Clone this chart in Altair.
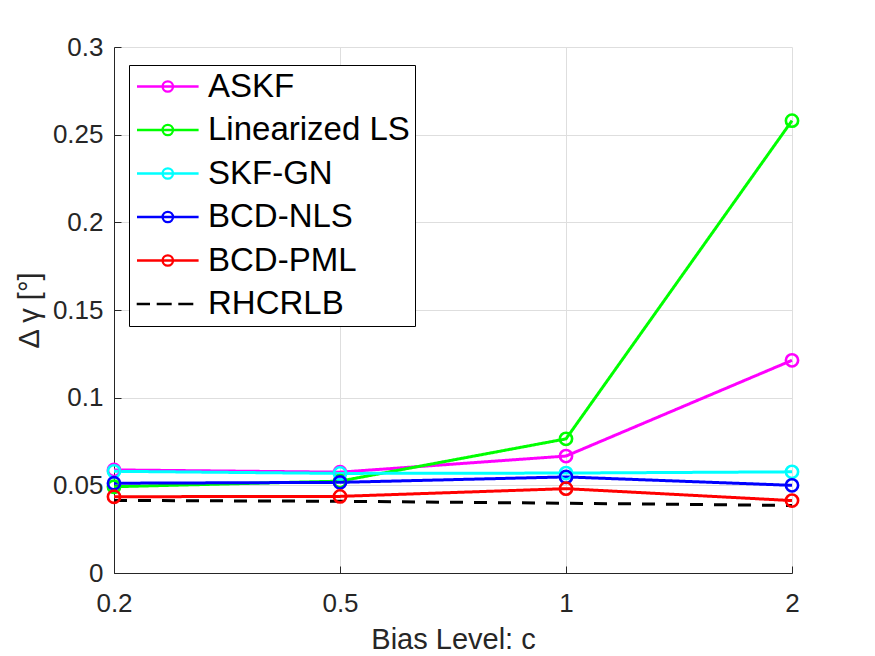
import altair as alt
import pandas as pd

# ---- data ----
bias_levels = ["0.2", "0.5", "1", "2"]
series_names = ["ASKF", "Linearized LS", "SKF-GN", "BCD-NLS", "BCD-PML", "RHCRLB"]
series_colors = ["#ff00ff", "#00ff00", "#00ffff", "#0000ff", "#ff0000", "#000000"]

askf = [0.0588, 0.0575, 0.0667, 0.1213]
lin_ls = [0.0492, 0.0524, 0.0765, 0.2580]
skf_gn = [0.0580, 0.0568, 0.0570, 0.0577]
bcd_nls = [0.0512, 0.0517, 0.0548, 0.0500]
bcd_pml = [0.0435, 0.0437, 0.0481, 0.0413]
rhcrlb = [0.0414, 0.0409, 0.0398, 0.0385]

y_ticks = [0, 0.05, 0.1, 0.15, 0.2, 0.25, 0.3]

values = [askf, lin_ls, skf_gn, bcd_nls, bcd_pml, rhcrlb]
rows = []
for name, vals in zip(series_names, values):
    for c, v in zip(bias_levels, vals):
        rows.append({"c": c, "value": v, "series": name})
df = pd.DataFrame(rows)

FONT = "Liberation Sans"
AX = "#262626"
GRID = "#dedede"

# legend symbols (units of 10 px): line with circle marker; dashed line for the bound
L0, L1 = -1.35, 4.81
CX, R = 1.73, 0.52
marker_path = (f"M{L0},0L{L1},0M{CX - R},0A{R},{R} 0 1,1 {CX + R},0"
               f"A{R},{R} 0 1,1 {CX - R},0")
dash_path = "M-1.38,0L-0.05,0M0.62,0L2.12,0M2.78,0L4.28,0"
shape_range = [marker_path] * 5 + [dash_path]
dash_range = [[1, 0]] * 5 + [[13, 11]]

color_scale = alt.Scale(domain=series_names, range=series_colors)
x_scale = alt.Scale(type="point", padding=0, domain=bias_levels)
y_scale = alt.Scale(domain=[0, 0.3], nice=False, zero=True)

base = alt.Chart(df)

lines = base.mark_line(strokeWidth=3).encode(
    x=alt.X("c:O", scale=x_scale, sort=bias_levels,
            axis=alt.Axis(orient="bottom", title="Bias Level: c", labelAngle=0,
                          grid=True, gridColor=GRID, gridWidth=1,
                          ticks=False, tickSize=0, labelPadding=17,
                          domainColor=AX, domainWidth=1,
                          labelFont=FONT, labelFontSize=26, labelColor=AX,
                          titleFont=FONT, titleFontSize=29, titleColor=AX,
                          titleFontWeight="normal", titlePadding=9)),
    y=alt.Y("value:Q", scale=y_scale,
            axis=alt.Axis(orient="left", title="Δ γ [°]", values=y_ticks, format="~g",
                          grid=True, gridColor=GRID, gridWidth=1,
                          ticks=False, tickSize=0, labelPadding=11,
                          domainColor=AX, domainWidth=1,
                          labelFont=FONT, labelFontSize=26, labelColor=AX,
                          titleFont=FONT, titleFontSize=29, titleColor=AX,
                          titleFontWeight="normal", titlePadding=8)),
    color=alt.Color("series:N", scale=color_scale, legend=None),
    strokeDash=alt.StrokeDash("series:N",
                              scale=alt.Scale(domain=series_names, range=dash_range),
                              legend=None),
)

points = base.transform_filter(alt.datum.series != "RHCRLB").mark_point(
    shape="circle", size=150, strokeWidth=2.6, filled=False, opacity=1
).encode(
    x=alt.X("c:O", scale=x_scale, sort=bias_levels,
            axis=alt.Axis(orient="top", offset=-526, labels=False, title=None,
                          grid=False, domain=False, ticks=True, tickSize=7,
                          tickColor=AX, tickWidth=1)),
    y=alt.Y("value:Q", scale=y_scale,
            axis=alt.Axis(orient="right", offset=-678, values=y_ticks, labels=False,
                          title=None, grid=False, domain=False, ticks=True, tickSize=7,
                          tickColor=AX, tickWidth=1)),
    color=alt.Color("series:N", scale=color_scale, legend=None),
)

leg = alt.Legend(title=None, orient="none", legendX=15, legendY=18,
                 labelFont=FONT, labelFontSize=33, labelColor="#000000",
                 symbolSize=400, symbolStrokeWidth=2.3,
                 symbolOpacity=1, symbolFillColor="transparent",
                 labelOffset=41, rowPadding=9.5, padding=5,
                 strokeColor="#000000", fillColor="#ffffff",
                 labelLimit=400)

legend_layer = base.transform_filter(alt.datum.value < 0).mark_point(
    filled=False, opacity=1, strokeWidth=2.3
).encode(
    color=alt.Color("series:N", scale=color_scale, legend=leg),
    shape=alt.Shape("series:N", scale=alt.Scale(domain=series_names, range=shape_range),
                    legend=leg),
)

chart = alt.layer(lines, points, legend_layer).resolve_axis(
    x="independent", y="independent"
).resolve_legend(
    color="independent", shape="independent", strokeDash="independent"
).properties(
    width=678,
    height=526,
    autosize=alt.AutoSizeParams(type="none"),
    padding={"left": 106, "top": 39, "right": 60, "bottom": 83},
    background="#ffffff",
).configure_view(stroke=None)

chart.save("out.html", embed_options={"renderer": "svg", "actions": False})
